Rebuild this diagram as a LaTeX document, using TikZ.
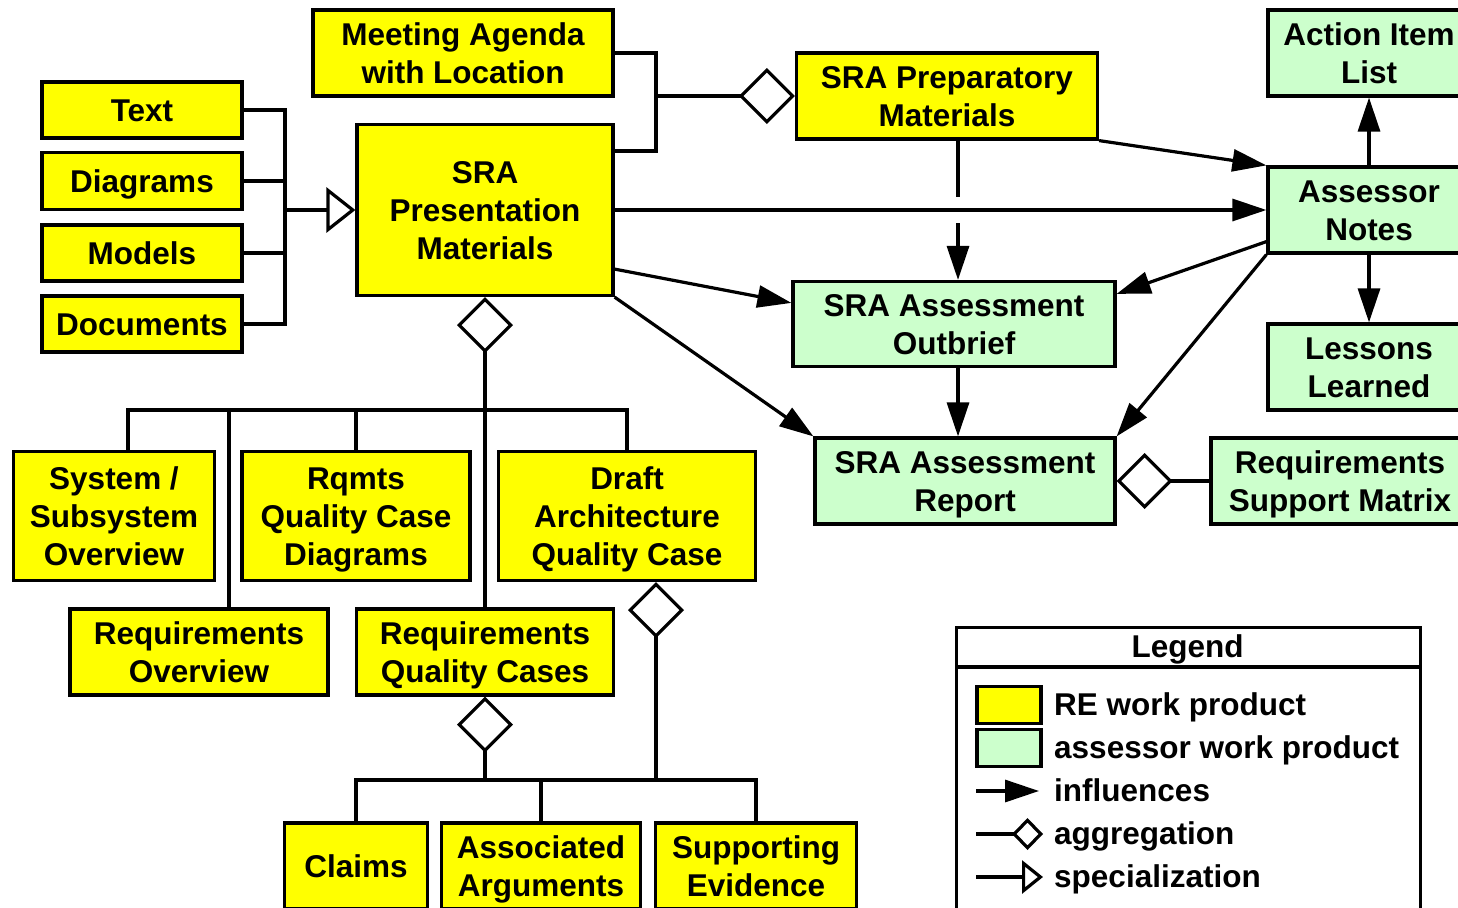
\documentclass[tikz,border=0pt]{standalone}
\usepackage{fontspec}
\setmainfont{Liberation Sans}
\usetikzlibrary{arrows.meta,calc}
\definecolor{reyellow}{HTML}{FFFF00}
\definecolor{asrgreen}{HTML}{CCFFCC}
\def\wpfont{\fontsize{31.5}{38}\selectfont\bfseries}
\def\cs{\rule[-7.5pt]{0pt}{37.5pt}}
\tikzset{
  re/.style={draw, line width=3.2pt, fill=reyellow, align=center, font=\wpfont, inner sep=0pt,
    execute at begin node=\cs, execute at end node=\cs},
  asr/.style={re, fill=asrgreen},
  bus/.style={line width=3.2pt},
  flow/.style={line width=3.2pt, -{Triangle[length=34pt,width=22pt]}},
  agg/.style={line width=3.2pt, -{Diamond[open,length=56pt,width=56pt]}},
  spec/.style={line width=3.2pt, -{Triangle[open,length=29pt,width=45pt]}},
  legtext/.style={anchor=base west, font=\wpfont, inner sep=0pt}
}

\begin{document}
\begin{tikzpicture}[x=1pt, y=-1pt]
    \useasboundingbox (0,0) rectangle (1458,907);
    \clip (0,0) rectangle (1458,907);
    % RE work products
    \node[re, minimum width=200, minimum height=56] (txt) at (142,110) {Text};
    \node[re, minimum width=200, minimum height=57] (diag) at (142,181) {Diagrams};
    \node[re, minimum width=200, minimum height=56] (mod) at (142,253) {Models};
    \node[re, minimum width=200, minimum height=56] (docs) at (142,324) {Documents};
    \node[re, minimum width=256, minimum height=171] (pres) at (485,210) {\cs SRA\\Presentation\\Materials};
    \node[re, minimum width=300, minimum height=86] (agenda) at (463,53) {\cs Meeting Agenda\\with Location};
    \node[re, minimum width=301, minimum height=86] (prep) at (947,96) {\cs SRA Preparatory\\Materials};
    \node[re, minimum width=201, minimum height=129] (sys) at (114,516) {\cs System /\\Subsystem\\Overview};
    \node[re, minimum width=228, minimum height=129] (rqcd) at (356,516) {\cs Rqmts\\Quality Case\\Diagrams};
    \node[re, minimum width=257, minimum height=129] (draft) at (627,516) {\cs Draft\\Architecture\\Quality Case};
    \node[re, minimum width=258, minimum height=86] (rov) at (199,652) {\cs Requirements\\Overview};
    \node[re, minimum width=257, minimum height=86] (rqc) at (485,652) {\cs Requirements\\Quality Cases};
    \node[re, minimum width=143, minimum height=86] (claims) at (356,866) {Claims};
    \node[re, minimum width=199, minimum height=86] (args) at (541,866) {\cs Associated\\Arguments};
    \node[re, minimum width=201, minimum height=86] (evid) at (756,866) {\cs Supporting\\Evidence};
    % assessor work products
    \node[asr, minimum width=202, minimum height=86] (action) at (1369,53) {\cs Action Item\\List};
    \node[asr, minimum width=202, minimum height=86] (notes) at (1369,210) {\cs Assessor\\Notes};
    \node[asr, minimum width=202, minimum height=86] (lessons) at (1369,367) {\cs Lessons\\Learned};
    \node[asr, minimum width=322, minimum height=85] (outbrief) at (954,324) {\cs SRA Assessment\\Outbrief};
    \node[asr, minimum width=300, minimum height=86] (report) at (965,481) {\cs SRA Assessment\\Report};
    \node[asr, minimum width=258, minimum height=86] (matrix) at (1340,481) {\cs Requirements\\Support Matrix};

    % specialization
    \coordinate (lb) at (285,210);
    \draw[bus] (txt.east) -| (lb) (docs.east) -| (lb)
        (diag.east) -- (diag.east -| lb) (mod.east) -- (mod.east -| lb);
    \draw[spec] (lb) -- (pres.west);

    % aggregations
    \coordinate (ab) at (656,96);
    \draw[bus] (agenda.east) -| (ab) ($(pres.north east)+(0,28)$) -| (ab);
    \draw[agg] (ab) -- (prep.west);
    \draw[agg] (matrix.west) -- (report.east);
    \draw[agg] (rqc.north) -- (pres.south);
    \coordinate (tbl) at (128,410);
    \coordinate (tbo) at (229,410);
    \draw[bus] (sys.north -| tbl) -- (tbl) -- (draft.north |- tbl) -- (draft.north);
    \draw[bus] (tbo) -- (tbo |- rov.north);
    \draw[bus] (rqcd.north) -- (rqcd.north |- tbl);
    \coordinate (bbus) at (485,780);
    \coordinate (bbd) at (656,780);
    \draw[agg] (bbus) -- (rqc.south);
    \draw[agg] (bbd) -- (bbd |- draft.south);
    \draw[bus] (claims.north) -- (claims.north |- bbus) -- (evid.north |- bbus) -- (evid.north);
    \draw[bus] (args.north) -- (args.north |- bbus);

    % influences
    \coordinate (hopa) at (958,197);
    \coordinate (hopb) at (958,223);
    \draw[flow] (prep.south east) -- (notes.north west);
    \draw[flow] (pres.east) -- (notes.west);
    \draw[bus] (hopa |- prep.south) -- (hopa);
    \draw[flow] (hopb) -- (hopb |- outbrief.north);
    \draw[flow] (hopa |- outbrief.south) -- (hopa |- report.north);
    \draw[flow] ($(pres.south east)+(0,-28)$) -- ($(outbrief.north west)+(0,23)$);
    \draw[flow] (pres.south east) -- (report.north west);
    \draw[flow] ($(notes.south west)+(0,-13)$) -- ($(outbrief.north east)+(0,14)$);
    \draw[flow] (notes.south west) -- (report.north east);
    \draw[flow] (notes.north) -- (action.south);
    \draw[flow] (notes.south) -- (lessons.north);

    % legend
    \node[draw, line width=3.2pt, minimum width=464, minimum height=300, anchor=north west] (legend) at (955,626) {};
    \node[legtext] (legtitle) at (1187,657) {\makebox[0pt]{Legend}};
    \draw[bus] (legend.west |- 0,667) -- (legend.east |- 0,667);
    \node[re, minimum width=64, minimum height=28, execute at begin node={}, execute at end node={}] (swre) at (1009,705) {};
    \node[asr, minimum width=64, minimum height=28, execute at begin node={}, execute at end node={}] (swasr) at (1009,748) {};
    \coordinate (lgi) at (976,791);
    \coordinate (lga) at (976,834);
    \coordinate (lgs) at (976,877);
    \draw[flow] (lgi) -- ++(63,0);
    \draw[line width=3.2pt, -{Diamond[open,length=31pt,width=32pt]}] (lga) -- ++(67,0);
    \draw[line width=3.2pt, -{Triangle[open,length=21pt,width=33pt]}] (lgs) -- ++(67,0);
    \node[legtext] (lre) at (1054,715) {RE work product};
    \node[legtext] (lasr) at (1054,758) {assessor work product};
    \node[legtext] (linf) at (1054,801) {influences};
    \node[legtext] (lagg) at (1054,844) {aggregation};
    \node[legtext] (lspec) at (1054,887) {specialization};
\end{tikzpicture}
\end{document}
